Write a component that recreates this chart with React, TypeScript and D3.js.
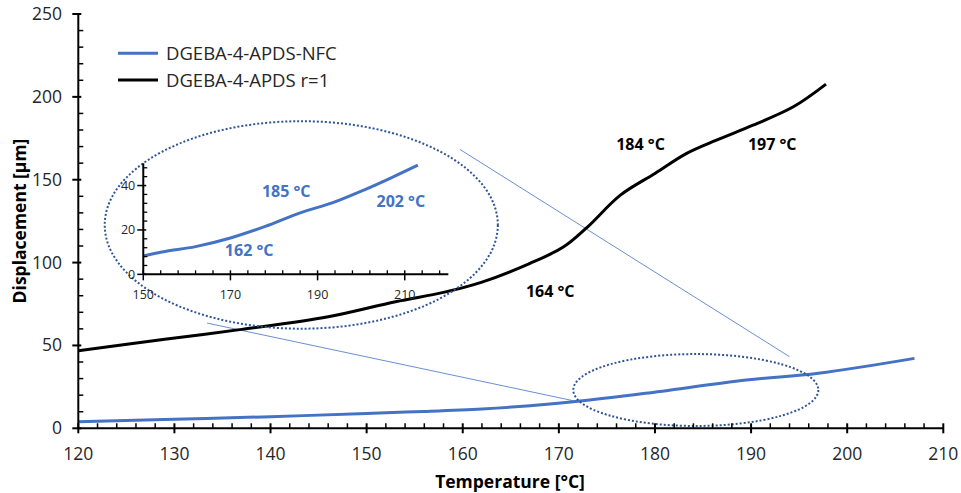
import React from "react";
import * as d3 from "d3";

// ---- Data ----
const blackT = [120, 129, 137, 146, 153, 158, 162, 167, 170.5, 173, 176.4, 180, 183.3, 186.4, 190.2, 194.4, 197.8];
const blackD = [46.8, 53.7, 59.7, 67.3, 76.4, 82, 88.2, 99.5, 109.5, 121.6, 140.7, 153.8, 165.9, 173.9, 182.9, 194, 207.7];

const blueT = [120, 130, 140, 150, 156, 162, 167, 171.5, 179, 189.5, 197, 207];
const blueD = [4, 5.5, 7, 9, 10.2, 11.7, 13.6, 16, 21.1, 29.1, 33.2, 42.2];

const insetT = [150, 155, 162, 170, 178, 186, 193.5, 201, 207, 213];
const insetD = [8.3, 10.3, 12.5, 16.4, 21.6, 27.7, 32.3, 38.3, 43.6, 49.2];

const xTicks = [120, 130, 140, 150, 160, 170, 180, 190, 200, 210];
const yTicks = [0, 50, 100, 150, 200, 250];
const insetXTicks = [150, 170, 190, 210];
const insetYTicks = [0, 20, 40];

const seriesNames = ["DGEBA-4-APDS-NFC", "DGEBA-4-APDS r=1"];

const mainLabels = [
  { t: "184 °C", x: 178.5, y: 167.9 },
  { t: "197 °C", x: 192.2, y: 167.9 },
  { t: "164 °C", x: 169.1, y: 79 },
];
const insetLabels = [
  { t: "185 °C", x: 182.8, y: 34.8 },
  { t: "202 °C", x: 209.1, y: 30.5 },
  { t: "162 °C", x: 174.3, y: 8.3 },
];

// annotation geometry in main data units
const bigEllipse = { cx: 143.2, cy: 122.7, rx: 20.45, ry: 62.6 };
const smallEllipse = { cx: 184.25, cy: 23.1, rx: 12.75, ry: 21.7 };
const connectors = [
  [133.4, 63.5, 171.5, 16.65],
  [159.7, 168.3, 194.0, 43.2],
];
// inset box in main data units (origin and extent)
const insetBox = { t0: 126.76, d0: 92.9, t1: 158.5 };

const BLUE = "#4472C4";
const DOT = "#2F5597";
const FONT = "'Open Sans', sans-serif";

export default function App() {
  const W = 961, H = 493;
  const x = d3.scaleLinear().domain([120, 210]).range([78.3, 943.3]);
  const y = d3.scaleLinear().domain([0, 250]).range([428.3, 14]);

  const ix = d3.scaleLinear().domain([150, 220]).range([x(insetBox.t0), x(insetBox.t1)]);
  const iy = d3.scaleLinear().domain([0, 50]).range([y(insetBox.d0), y(insetBox.d0) - 111]);

  const line = d3.line<[number, number]>().x(d => x(d[0])).y(d => y(d[1])).curve(d3.curveCatmullRom.alpha(0.5));
  const iline = d3.line<[number, number]>().x(d => ix(d[0])).y(d => iy(d[1])).curve(d3.curveCatmullRom.alpha(0.5));

  const blackPath = line(blackT.map((t, i) => [t, blackD[i]]) as [number, number][]) || "";
  const bluePath = line(blueT.map((t, i) => [t, blueD[i]]) as [number, number][]) || "";
  const insetPath = iline(insetT.map((t, i) => [t, insetD[i]]) as [number, number][]) || "";

  const xMinor = d3.range(120, 210.01, 2).filter(v => v % 10 !== 0);
  const yMinor = d3.range(0, 250.01, 10).filter(v => v % 50 !== 0);
  const ixMinor = d3.range(150, 220.01, 4).filter(v => (v - 150) % 20 !== 0);
  const iyMinor = d3.range(0, 50.01, 4).filter(v => v % 20 !== 0);

  const ell = (e: typeof bigEllipse) => ({
    cx: x(e.cx), cy: y(e.cy), rx: x(e.cx + e.rx) - x(e.cx), ry: y(e.cy) - y(e.cy + e.ry),
  });
  const be = ell(bigEllipse);
  const se = ell(smallEllipse);

  return (
    <div style={{ position: "absolute", left: 0, top: 0 }}>
      <svg width={W} height={H} style={{ display: "block", background: "#fff", fontFamily: FONT }}>
        <rect width={W} height={H} fill="#fff" />
        {/* connectors */}
        {connectors.map((c, i) => (
          <line key={i} x1={x(c[0])} y1={y(c[1])} x2={x(c[2])} y2={y(c[3])} stroke={BLUE} strokeWidth={0.8} />
        ))}
        {/* series */}
        <path d={bluePath} fill="none" stroke={BLUE} strokeWidth={3} />
        <path d={blackPath} fill="none" stroke="#000" strokeWidth={3} />
        {/* ellipses */}
        <ellipse cx={be.cx} cy={be.cy} rx={be.rx} ry={be.ry} fill="none" stroke={DOT} strokeWidth={2} strokeDasharray="2,2" />
        <ellipse cx={se.cx} cy={se.cy} rx={se.rx} ry={se.ry} fill="none" stroke={DOT} strokeWidth={2} strokeDasharray="2,2" />

        {/* main axes */}
        <line x1={x(120)} x2={x(210)} y1={y(0)} y2={y(0)} stroke="#000" strokeWidth={2} />
        <line x1={x(120)} x2={x(120)} y1={y(0)} y2={y(250)} stroke="#000" strokeWidth={2} />
        {xTicks.map(v => (
          <g key={"xt" + v}>
            <line x1={x(v)} x2={x(v)} y1={y(0) - 5} y2={y(0) + 5} stroke="#000" strokeWidth={2} />
            <text x={x(v)} y={460} textAnchor="middle" fontSize={17.5} fill="#262626">{v}</text>
          </g>
        ))}
        {xMinor.map(v => (
          <line key={"xm" + v} x1={x(v)} x2={x(v)} y1={y(0)} y2={y(0) - 5} stroke="#000" strokeWidth={1.5} />
        ))}
        {yTicks.map(v => (
          <g key={"yt" + v}>
            <line x1={x(120) - 6} x2={x(120) + 3} y1={y(v)} y2={y(v)} stroke="#000" strokeWidth={2} />
            <text x={62} y={y(v) + 6} textAnchor="end" fontSize={17.5} fill="#262626">{v}</text>
          </g>
        ))}
        {yMinor.map(v => (
          <line key={"ym" + v} x1={x(120)} x2={x(120) + 5} y1={y(v)} y2={y(v)} stroke="#000" strokeWidth={1.5} />
        ))}
        <text x={510} y={488} textAnchor="middle" fontSize={17.5} fontWeight="bold" fill="#000">Temperature [°C]</text>
        <text transform={`translate(26,${221}) rotate(-90)`} textAnchor="middle" fontSize={17.5} fontWeight="bold" fill="#000">Displacement [µm]</text>

        {/* legend */}
        {seriesNames.map((n, i) => (
          <g key={n}>
            <line x1={118} x2={158} y1={53.3 + i * 26.7} y2={53.3 + i * 26.7} stroke={i === 0 ? BLUE : "#000"} strokeWidth={3} />
            <text x={166} y={53.3 + i * 26.7 + 6.5} fontSize={18.5} fill="#262626">{n}</text>
          </g>
        ))}

        {/* main labels */}
        {mainLabels.map(l => (
          <text key={l.t} x={x(l.x)} y={y(l.y)} textAnchor="middle" fontSize={16} fontWeight="bold" fill="#000">{l.t}</text>
        ))}

        {/* inset */}
        <path d={insetPath} fill="none" stroke={BLUE} strokeWidth={3} />
        <line x1={ix(150)} x2={ix(220)} y1={iy(0)} y2={iy(0)} stroke="#000" strokeWidth={2} />
        <line x1={ix(150)} x2={ix(150)} y1={iy(0)} y2={iy(50)} stroke="#000" strokeWidth={2} />
        {insetXTicks.map(v => (
          <g key={"ixt" + v}>
            <line x1={ix(v)} x2={ix(v)} y1={iy(0) - 4} y2={iy(0) + 6} stroke="#000" strokeWidth={1.5} />
            <text x={ix(v)} y={iy(0) + 25} textAnchor="middle" fontSize={12.5} fill="#262626">{v}</text>
          </g>
        ))}
        {ixMinor.map(v => (
          <line key={"ixm" + v} x1={ix(v)} x2={ix(v)} y1={iy(0)} y2={iy(0) - 4} stroke="#000" strokeWidth={1.3} />
        ))}
        {insetYTicks.map(v => (
          <g key={"iyt" + v}>
            <line x1={ix(150) - 6} x2={ix(150) + 3} y1={iy(v)} y2={iy(v)} stroke="#000" strokeWidth={1.5} />
            <text x={ix(150) - 8} y={iy(v) + 4.5} textAnchor="end" fontSize={12.5} fill="#262626">{v}</text>
          </g>
        ))}
        {iyMinor.map(v => (
          <line key={"iym" + v} x1={ix(150)} x2={ix(150) + 4} y1={iy(v)} y2={iy(v)} stroke="#000" strokeWidth={1.3} />
        ))}
        {insetLabels.map(l => (
          <text key={l.t} x={ix(l.x)} y={iy(l.y)} textAnchor="middle" fontSize={16} fontWeight="bold" fill={BLUE}>{l.t}</text>
        ))}
      </svg>
    </div>
  );
}
